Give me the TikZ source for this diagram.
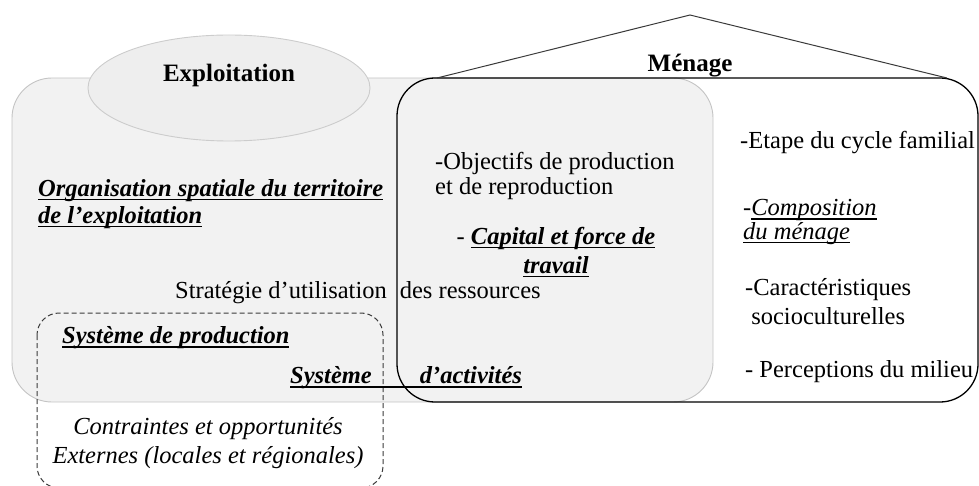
\documentclass[tikz,border=0pt]{standalone}
\usepackage{fontspec}
\setmainfont{Liberation Serif}
\usetikzlibrary{shapes.geometric}
\definecolor{boxfill}{HTML}{F2F2F2}
\definecolor{boxline}{HTML}{C4C4C4}
\definecolor{ellfill}{HTML}{EEEEEE}
\definecolor{ellline}{HTML}{CCCCCC}
\definecolor{darkline}{HTML}{3A3A3A}
\newsavebox{\myulbox}
\newcommand{\myul}[1]{\sbox{\myulbox}{#1}\rlap{\rule[-4pt]{\wd\myulbox}{1.5pt}}\usebox{\myulbox}}
\newcommand{\bu}[1]{\myul{\textbf{\textit{#1}}}}
\tikzset{
  txt/.style={inner sep=0pt, font=\fontsize{24.5}{27}\selectfont, text=black},
  ttl/.style={inner sep=0pt, font=\fontsize{25}{28}\selectfont\bfseries, text=black},
  greybox/.style={draw=boxline, fill=boxfill, line width=0.9pt, rounded corners=40pt},
  ellbox/.style={ellipse, draw=ellline, fill=ellfill, line width=0.9pt, inner sep=0pt},
  houseline/.style={draw=black, line width=1.3pt, rounded corners=38pt},
  roofline/.style={draw=darkline, line width=1pt},
  dashbox/.style={draw=darkline, line width=1pt, dash pattern=on 5pt off 3pt, rounded corners=22pt}
}
\begin{document}
\begin{tikzpicture}[x=1pt,y=-1pt]
\useasboundingbox (0,0) rectangle (979,486);
% Exploitation box
\draw[greybox] (12,78) rectangle (713,402);
\node[ellbox, minimum width=282pt, minimum height=106pt] (ell) at (229,88) {};
% Menage house
\draw[houseline] (690,78) -- (397,78) -- (397,402) -- (978,402) -- (978,78) -- cycle;
\coordinate (roofL) at (437,78);
\coordinate (apex) at (690,15);
\coordinate (roofR) at (947,78);
\draw[roofline] (roofL) -- (apex) -- (roofR);
% external dashed box
\draw[dashbox] (37,313) rectangle (383,488);
% titles
\node[ttl] (exploit) at (229,75) {Exploitation};
\node[ttl] (menage) at (690,66) {Ménage};
% left texts
\node[txt, anchor=west, align=left] (orga) at (38,204)
  {\bu{Organisation spatiale du territoire}\\ \bu{de l’exploitation}};
\node[txt, anchor=west] (strat) at (175,293)
  {Stratégie d’utilisation\hspace{13pt}des ressources};
\node[txt, anchor=west] (sysprod) at (62,338) {\bu{Système de production}};
\node[txt, anchor=west] (sysact) at (290,378)
  {\myul{\textbf{\textit{Système}}\hspace{48pt}\textbf{\textit{d’activités}}}};
\node[txt, align=center, font=\fontsize{24.5}{29}\selectfont\itshape] (contr) at (208,443)
  {Contraintes et opportunités\\Externes (locales et régionales)};
% middle texts
\node[txt, anchor=west, align=left, font=\fontsize{24.5}{25}\selectfont] (obj) at (435,176)
  {-Objectifs de production\\et de reproduction};
\node[txt, align=center, font=\fontsize{24.5}{29}\selectfont] (cap) at (556,252)
  {- \bu{Capital et force de}\\\bu{travail}};
% right texts
\node[txt, anchor=west] (etape) at (740,143) {-Etape du cycle familial};
\node[txt, anchor=west, align=left, font=\fontsize{24.5}{21}\selectfont\itshape] (compo) at (743,222)
  {-\myul{Composition}\\\myul{du ménage}};
\node[txt, anchor=west, align=left, font=\fontsize{24.5}{29}\selectfont] (carac) at (745,302)
  {-Caractéristiques\\\ socioculturelles};
\node[txt, anchor=west] (perc) at (745,372) {- Perceptions du milieu};
\end{tikzpicture}
\end{document}
